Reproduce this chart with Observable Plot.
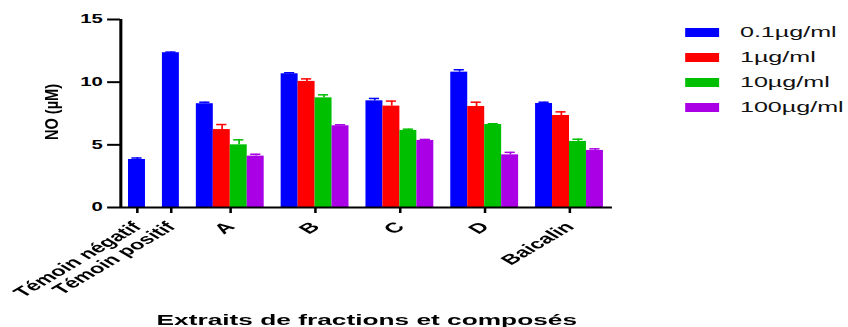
<!DOCTYPE html>
<html><head><meta charset="utf-8">
<script src="https://cdn.jsdelivr.net/npm/d3@7"></script>
<script src="https://cdn.jsdelivr.net/npm/@observablehq/plot@0.6"></script>
<style>
body{margin:0;background:#fff;overflow:hidden;width:848px;height:327px;}
#wrap{position:absolute;left:0;top:0;width:500px;height:327px;transform:scaleX(1.696);transform-origin:0 0;}
#legend{position:absolute;left:403.9px;top:19.5px;font-family:"Liberation Sans",Arial,Helvetica,sans-serif;font-size:14.8px;color:#111;}
#legend .row{display:flex;align-items:center;height:25px;white-space:nowrap;}
#legend .sw{width:20.6px;height:9px;margin-right:11.8px;}
</style></head><body>
<div id="wrap"><div id="chart"></div><div id="legend"></div></div>
<script>
// ---- data ----
const categories = ["Témoin négatif", "Témoin positif", "A", "B", "C", "D", "Baicalin"];
const series = ["0.1µg/ml", "1µg/ml", "10µg/ml", "100µg/ml"];
const colors = ["#0000FF", "#FF0000", "#00BF00", "#A900E6"];
const mean01  = [3.83, 12.35, 8.28, 10.67, 8.51, 10.80, 8.30];
const mean1   = [null, null, 6.22, 10.06, 8.09, 8.06, 7.34];
const mean10  = [null, null, 5.00, 8.75, 6.15, 6.62, 5.27];
const mean100 = [null, null, 4.10, 6.52, 5.35, 4.20, 4.55];
const err01   = [0.12, 0.05, 0.12, 0.08, 0.19, 0.19, 0.10];
const err1    = [null, null, 0.40, 0.20, 0.40, 0.34, 0.29];
const err10   = [null, null, 0.40, 0.24, 0.10, 0.06, 0.18];
const err100  = [null, null, 0.15, 0.08, 0.08, 0.20, 0.13];
const yTicks = [0, 5, 10, 15];
const yLabel = "NO (µM)";
const xTitle = "Extraits de fractions et composés";

// ---- build table (GraphPad-like slot layout: one slot per bar, one empty slot between groups) ----
const means = [mean01, mean1, mean10, mean100];
const errs = [err01, err1, err10, err100];
const bars = [];
const centers = [];
let start = 0;
categories.forEach((cat, ci) => {
  let k = 0;
  series.forEach((s, si) => {
    const v = means[si][ci];
    if (v == null) return;
    const x1 = start + k;
    bars.push({cat, series: s, value: v, top: v + errs[si][ci], x1, x2: x1 + 1, xc: x1 + 0.5, c1: x1 + 0.2, c2: x1 + 0.8});
    k++;
  });
  centers.push({pos: start + k / 2, cat});
  start += k + 1;
});
const catAt = new Map(centers.map(d => [d.pos, d.cat]));
const xDomain = [-0.472, start - 1 + 0.53];
const S = 1.696; // horizontal stretch of the reference image

const font = '"Liberation Sans", Arial, Helvetica, sans-serif';
const chart = Plot.plot({
  width: 500, height: 327,
  marginLeft: 70.75, marginRight: 139.2, marginTop: 19, marginBottom: 120,
  x: {type: "linear", domain: xDomain, axis: null},
  y: {domain: [0, 15], axis: null},
  color: {domain: series, range: colors},
  style: {fontFamily: font, background: "white", color: "black", overflow: "visible"},
  marks: [
    Plot.rect(bars, {x1: "x1", x2: "x2", y1: 0, y2: "value", fill: "series"}),
    Plot.ruleX(bars, {x: "xc", y1: "value", y2: "top", stroke: "series", strokeWidth: 1}),
    Plot.ruleY(bars, {y: "top", x1: "c1", x2: "c2", stroke: "series", strokeWidth: 1.5}),
    Plot.axisY({ticks: yTicks, tickSize: 7.6, tickPadding: 3, fontSize: 12, fontWeight: "bold", stroke: "black", strokeWidth: 2, fill: "black", label: null}),
    Plot.axisX({ticks: centers.map(d => d.pos), tickFormat: d => catAt.get(d), tickSize: 6, tickPadding: 11, tickRotate: -45, fontSize: 14, fontWeight: "bold", stroke: "black", strokeWidth: 1.5, fill: "black", label: null}),
    Plot.ruleY([0], {stroke: "black", strokeWidth: 2}),
    Plot.ruleX([xDomain[0]], {y1: 0, y2: yTicks[yTicks.length - 1], stroke: "black", strokeWidth: 1.8}),
    Plot.text([yLabel], {frameAnchor: "left", dx: -(70.75 - 51.5 / S), rotate: -90, fontSize: 14.6, fontWeight: "bold", fill: "black", textAnchor: "middle", lineAnchor: "middle", dy: 111.5 - (19 + 207) / 2}),
    Plot.text([xTitle], {frameAnchor: "bottom", dy: 117, lineAnchor: "bottom", fontSize: 15.5, fontWeight: "bold", fill: "black"})
  ]
});
document.getElementById("chart").appendChild(chart);
// the y-axis title is only slightly widened in the reference
chart.querySelectorAll("text").forEach(t => {
  if (t.textContent === yLabel) {
    const tr = t.getAttribute("transform") || "";
    t.setAttribute("transform", tr + ` scale(1,${(1.2 / S).toFixed(4)})`);
  }
});

// legend
const lg = document.getElementById("legend");
series.forEach((s, i) => {
  const row = document.createElement("div");
  row.className = "row";
  const sw = document.createElement("span");
  sw.className = "sw";
  sw.style.background = colors[i];
  const t = document.createElement("span");
  t.textContent = s;
  row.appendChild(sw); row.appendChild(t);
  lg.appendChild(row);
});
</script>
</body></html>
